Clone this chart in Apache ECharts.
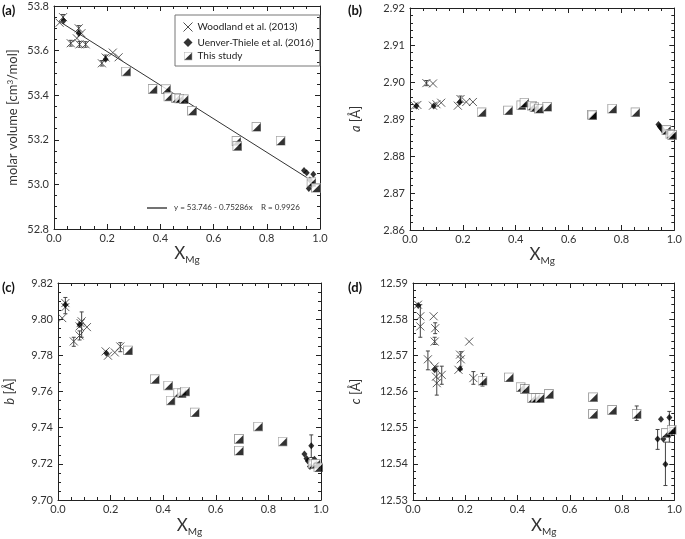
<!DOCTYPE html>
<html><head><meta charset="utf-8">
<script src="https://cdn.jsdelivr.net/npm/echarts@6/dist/echarts.min.js"></script>
<style>html,body{margin:0;padding:0;background:#fff}#c{width:685px;height:539px}</style>
</head><body><div id="c"></div>
<script>
// ---------- data ----------
const seriesNames = ['Woodland et al. (2013)', 'Uenver-Thiele et al. (2016)', 'This study'];
const xRange = [0, 1, 0.2];
// panel (a) molar volume
const aWood = [[0.021,53.725],[0.034,53.750],[0.093,53.700],[0.103,53.678],[0.086,53.655],[0.063,53.633],[0.096,53.628],[0.119,53.628],[0.180,53.543],[0.194,53.569],[0.221,53.591],[0.243,53.570]];
const aUen = [[0.036,53.734],[0.093,53.678],[0.194,53.561],[0.940,53.062],[0.950,53.052],[0.975,53.045],[0.962,53.020],[0.958,52.982],[0.972,53.000]];
const aThis = [[0.271,53.506],[0.371,53.428],[0.421,53.427],[0.430,53.394],[0.459,53.388],[0.471,53.385],[0.488,53.382],[0.519,53.330],[0.686,53.195],[0.689,53.172],[0.761,53.258],[0.852,53.196],[0.968,53.010],[0.985,52.985]];
const aErr = [[0.034,53.738,53.762],[0.063,53.620,53.646],[0.096,53.615,53.641],[0.119,53.615,53.640],[0.093,53.688,53.712],[0.180,53.531,53.555],[0.194,53.558,53.580]];
const aFit = [[0.02,53.731],[0.95,53.031]];
const aFitEq = 'y = 53.746 - 0.75286x';
const aFitR = 'R = 0.9926';
// panel (b) a
const bWood = [[0.018,2.8936],[0.028,2.8938],[0.062,2.8997],[0.087,2.8996],[0.087,2.8936],[0.100,2.8940],[0.118,2.8944],[0.181,2.8936],[0.191,2.8954],[0.213,2.8946],[0.238,2.8946]];
const bUen = [[0.024,2.8935],[0.090,2.8935],[0.188,2.8945],[0.940,2.8885],[0.945,2.8880],[0.950,2.8876],[0.955,2.8871],[0.960,2.8866]];
const bThis = [[0.271,2.8918],[0.371,2.8923],[0.421,2.8937],[0.433,2.8944],[0.461,2.8936],[0.471,2.8932],[0.488,2.8928],[0.519,2.8933],[0.688,2.8912],[0.690,2.8910],[0.765,2.8928],[0.853,2.8918],[0.970,2.8870],[0.985,2.8860],[0.992,2.8857]];
const bErr = [[0.062,2.8990,2.9004],[0.191,2.8945,2.8962]];
// panel (c) b
const cWood = [[0.016,9.8006],[0.028,9.8089],[0.028,9.8067],[0.060,9.7877],[0.082,9.7910],[0.086,9.7978],[0.082,9.7960],[0.110,9.7956],[0.090,9.7988],[0.181,9.7822],[0.190,9.7798],[0.216,9.7816],[0.237,9.7849]];
const cUen = [[0.028,9.8080],[0.082,9.7970],[0.184,9.7812],[0.937,9.7255],[0.945,9.7230],[0.950,9.7215],[0.958,9.7185],[0.963,9.7300],[0.975,9.7225],[0.985,9.7195]];
const cThis = [[0.266,9.7827],[0.368,9.7668],[0.419,9.7633],[0.428,9.7550],[0.457,9.7594],[0.470,9.7590],[0.483,9.7600],[0.520,9.7484],[0.688,9.7338],[0.688,9.7273],[0.761,9.7406],[0.854,9.7323],[0.968,9.7198],[0.980,9.7200],[0.990,9.7180]];
const cErr = [[0.028,9.803,9.812],[0.090,9.790,9.804],[0.237,9.782,9.787],[0.082,9.7885,9.7935],[0.060,9.785,9.790],[0.963,9.7235,9.736]];
// panel (d) c
const dWood = [[0.019,12.5840],[0.028,12.5808],[0.028,12.5780],[0.057,12.5689],[0.079,12.5808],[0.085,12.5775],[0.083,12.5738],[0.083,12.5669],[0.088,12.5641],[0.091,12.5623],[0.110,12.5646],[0.174,12.5660],[0.183,12.5689],[0.180,12.5702],[0.215,12.5738],[0.231,12.5637]];
const dUen = [[0.020,12.5838],[0.083,12.5660],[0.180,12.5663],[0.949,12.5523],[0.981,12.5528],[0.936,12.5469],[0.958,12.5469],[0.966,12.5399],[0.981,12.5480],[0.992,12.5487]];
const dThis = [[0.266,12.5630],[0.367,12.5639],[0.412,12.5612],[0.428,12.5607],[0.456,12.5582],[0.469,12.5582],[0.485,12.5582],[0.520,12.5593],[0.689,12.5584],[0.689,12.5538],[0.762,12.5549],[0.856,12.5538],[0.968,12.5485],[0.990,12.5494]];
const dErr = [[0.028,12.575,12.584],[0.057,12.566,12.5712],[0.085,12.576,12.579],[0.083,12.573,12.575],[0.091,12.559,12.567],[0.110,12.562,12.567],[0.183,12.566,12.571],[0.231,12.562,12.5655],[0.266,12.5615,12.565],[0.856,12.552,12.556],[0.936,12.544,12.5495],[0.966,12.534,12.546],[0.981,12.546,12.5545]];
// y ranges: [min, max, interval, minor splits, decimals]
const yRanges = [[52.8,53.8,0.2,4,1],[2.86,2.92,0.01,5,2],[9.70,9.82,0.02,4,2],[12.53,12.59,0.01,5,2]];
const panelLabels = ['(a)','(b)','(c)','(d)'];

// ---------- styling / layout ----------
const FONT = 'Lato';
const grids = [
  {left:54, top:6, width:266, height:223},
  {left:410, top:8, width:265, height:222},
  {left:58, top:283, width:263, height:217},
  {left:413, top:283, width:262, height:217}
];
const yNames = [
  'molar volume [cm{sup|3}/mol]',
  '{i|a} [Å]',
  '{i|b} [Å]',
  '{i|c} [Å]'
];
const yNameGaps = [35, 46, 40, 49];
const crossSym = 'path://M0,0L10,10M10,0L0,10';
const sqSvg = "<svg xmlns='http://www.w3.org/2000/svg' width='20' height='20' viewBox='0 0 20 20'><rect x='1' y='1' width='18' height='18' fill='#fff' stroke='#888' stroke-width='2'/><polygon points='18.5,2.5 18.5,18.5 2.5,18.5' fill='#000'/></svg>";
const sqSym = 'image://data:image/svg+xml;charset=utf-8,' + encodeURIComponent(sqSvg);

const lineCol = '#222';
function baseAxis(min, max, interval, minorSplit) {
  return {
    min: min, max: max, interval: interval,
    axisLine: {show:true, onZero:false, lineStyle:{color:lineCol, width:1}},
    axisTick: {show:true, inside:true, length:5, lineStyle:{color:lineCol, width:1}},
    minorTick: {show:true, splitNumber:minorSplit, length:3, lineStyle:{color:lineCol, width:1}},
    splitLine: {show:false},
    minorSplitLine: {show:false}
  };
}
const xAxes = [], yAxes = [];
for (let i = 0; i < 4; i++) {
  const xb = baseAxis(xRange[0], xRange[1], xRange[2], 4);
  Object.assign(xb, {
    type:'value', gridIndex:i, position:'bottom',
    axisLabel:{color:'#333', fontSize:11, fontFamily:FONT, margin:4, formatter:v => v.toFixed(1)},
    name:'{x|X}{s|Mg}', nameLocation:'middle', nameGap: i < 2 ? 14 : 15,
    nameTextStyle:{color:'#333', rich:{x:{fontSize:17, fontFamily:FONT, lineHeight:22, color:'#333'}, s:{fontSize:10, fontFamily:FONT, lineHeight:10, verticalAlign:'bottom', color:'#333'}}}
  });
  xAxes.push(xb);
  const xt = baseAxis(xRange[0], xRange[1], xRange[2], 4);
  Object.assign(xt, {type:'value', gridIndex:i, position:'top', axisLabel:{show:false}});
  xAxes.push(xt);
  const r = yRanges[i];
  const yl = baseAxis(r[0], r[1], r[2], r[3]);
  Object.assign(yl, {
    type:'value', gridIndex:i, position:'left',
    axisLabel:{color:'#333', fontSize:11, fontFamily:FONT, margin:5, formatter:v => v.toFixed(r[4])},
    name: yNames[i], nameLocation:'middle', nameGap: yNameGaps[i], nameRotate:90,
    nameTextStyle:{color:'#333', fontSize:13, fontFamily:FONT,
      rich:{i:{fontStyle:'italic', fontSize:13, fontFamily:FONT, color:'#333', lineHeight:16},
            sup:{fontSize:8, fontFamily:FONT, color:'#333', verticalAlign:'top', lineHeight:8}}}
  });
  yAxes.push(yl);
  const yr = baseAxis(r[0], r[1], r[2], r[3]);
  Object.assign(yr, {type:'value', gridIndex:i, position:'right', axisLabel:{show:false}});
  yAxes.push(yr);
}

const panels = [
  {wood:aWood, uen:aUen, mine:aThis, err:aErr},
  {wood:bWood, uen:bUen, mine:bThis, err:bErr},
  {wood:cWood, uen:cUen, mine:cThis, err:cErr},
  {wood:dWood, uen:dUen, mine:dThis, err:dErr}
];

function errRender(params, api) {
  const x = api.value(0), lo = api.value(1), hi = api.value(2);
  const p1 = api.coord([x, lo]), p2 = api.coord([x, hi]);
  const st = {stroke:'#444', lineWidth:1};
  return {type:'group', children:[
    {type:'line', shape:{x1:p1[0], y1:p1[1], x2:p2[0], y2:p2[1]}, style:st},
    {type:'line', shape:{x1:p1[0]-2, y1:p1[1], x2:p1[0]+2, y2:p1[1]}, style:st},
    {type:'line', shape:{x1:p2[0]-2, y1:p2[1], x2:p2[0]+2, y2:p2[1]}, style:st}
  ]};
}

const series = [];
panels.forEach((p, i) => {
  const ax = {xAxisIndex:2*i, yAxisIndex:2*i};
  series.push(Object.assign({type:'custom', name:'err'+i, renderItem:errRender, data:p.err, encode:{x:0, y:[1,2]}, z:2, silent:true}, ax));
  series.push(Object.assign({type:'scatter', name:seriesNames[0], data:p.wood, symbol:crossSym, symbolSize:8,
    itemStyle:{color:'none', borderColor:'#333', borderWidth:1}, z:3}, ax));
  series.push(Object.assign({type:'scatter', name:seriesNames[1], data:p.uen, symbol:'diamond', symbolSize:[6,7],
    itemStyle:{color:'#000'}, z:4}, ax));
  series.push(Object.assign({type:'scatter', name:seriesNames[2], data:p.mine, symbol:sqSym, symbolSize:10, z:5}, ax));
  if (i === 0) {
    series.push(Object.assign({type:'line', name:'fit', data:aFit, symbol:'none', lineStyle:{color:'#333', width:1}, z:2, silent:true}, ax));
  }
});

const graphic = [
  {type:'text', left:2, top:4, style:{text:panelLabels[0], font:'bold 13px ' + FONT, fill:'#111'}},
  {type:'text', left:348, top:4, style:{text:panelLabels[1], font:'bold 13px ' + FONT, fill:'#111'}},
  {type:'text', left:2, top:281, style:{text:panelLabels[2], font:'bold 13px ' + FONT, fill:'#111'}},
  {type:'text', left:348, top:281, style:{text:panelLabels[3], font:'bold 13px ' + FONT, fill:'#111'}},
  {type:'line', shape:{x1:147, y1:208, x2:167, y2:208}, style:{stroke:'#444', lineWidth:1.5}},
  {type:'text', left:174, top:203, style:{text:aFitEq, font:'8px ' + FONT, fill:'#333'}},
  {type:'text', left:261, top:203, style:{text:aFitR, font:'8px ' + FONT, fill:'#333'}}
];

const chart = echarts.init(document.getElementById('c'), null, {renderer:'canvas'});
chart.setOption({
  animation:false,
  backgroundColor:'#fff',
  grid: grids,
  xAxis: xAxes,
  yAxis: yAxes,
  legend: {
    data:[
      {name:seriesNames[0], icon:crossSym, itemStyle:{color:'none', borderColor:'#222', borderWidth:1}},
      {name:seriesNames[1], icon:'diamond', itemStyle:{color:'#000'}},
      {name:seriesNames[2], icon:sqSym}
    ],
    orient:'vertical', left:175, top:15,
    itemWidth:9, itemHeight:9, itemGap:3.5,
    padding:[5,6,5,6],
    borderColor:'#777', borderWidth:1,
    textStyle:{fontSize:10, fontFamily:FONT, color:'#222'}
  },
  graphic: graphic,
  series: series
});
</script>
</body></html>
